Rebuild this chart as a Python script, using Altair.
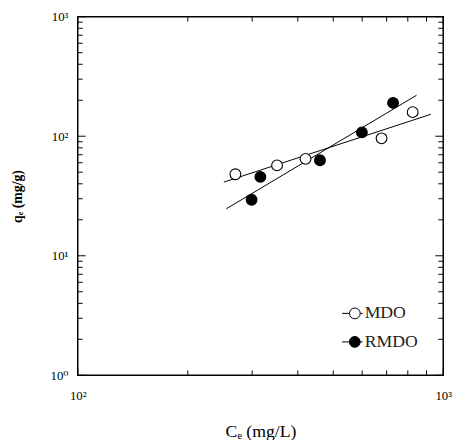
import altair as alt
import numpy as np
import pandas as pd

# ---- data ----
series_names = ["MDO", "RMDO"]
mdo_ce = [270, 351, 420, 678, 825]
mdo_qe = [48.1, 57.0, 64.6, 96.1, 159.0]
rmdo_ce = [299, 316, 460, 599, 729]
rmdo_qe = [29.4, 45.7, 63.0, 107.6, 190.0]
mdo_fit_range = [251, 925]
rmdo_fit_range = [255, 845]
x_decades = [100, 1000]
y_decades = [1, 10, 100, 1000]
x_minor = [m * 100 for m in range(2, 10)]
y_minor = [m * 10 ** e for e in range(0, 3) for m in range(2, 10)]

W, H = 372, 365
SERIF = "'Liberation Serif', 'DejaVu Serif', serif"

pts = pd.DataFrame({
    "x": mdo_ce + rmdo_ce,
    "y": mdo_qe + rmdo_qe,
    "series": [series_names[0]] * len(mdo_ce) + [series_names[1]] * len(rmdo_ce),
})

fit_rows = []
for name, xs, ys, rng in [(series_names[0], mdo_ce, mdo_qe, mdo_fit_range),
                          (series_names[1], rmdo_ce, rmdo_qe, rmdo_fit_range)]:
    k, b = np.polyfit(np.log10(xs), np.log10(ys), 1)
    for xv in rng:
        fit_rows.append({"x": xv, "y": 10 ** (b + k * np.log10(xv)), "series": name})
fit = pd.DataFrame(fit_rows)

xscale = alt.Scale(type="log", domain=[100, 1000], nice=False)
yscale = alt.Scale(type="log", domain=[1, 1000], nice=False)

sup = "['⁰','¹','²','³','⁴'][round(log(datum.value)/LN10)]"
xaxis = alt.Axis(values=x_decades, labelExpr="'10' + " + sup, ticks=False, domain=False,
                 grid=False, labelFlush=False, labelPadding=15, labelFont=SERIF,
                 labelFontSize=13, labelColor="black", title="Cₑ (mg/L)",
                 titleFont=SERIF, titleFontSize=18, titleFontWeight="normal",
                 titleColor="black", titlePadding=20)
yaxis = alt.Axis(values=y_decades, labelExpr="'10' + " + sup, ticks=False, domain=False,
                 grid=False, labelFlush=False, labelPadding=10, labelFont=SERIF,
                 labelFontSize=13, labelColor="black", labelBaseline="middle",
                 title="qₑ (mg/g)", titleFont=SERIF, titleFontSize=14,
                 titleFontWeight="bold", titleColor="black", titlePadding=26)

X = lambda: alt.X("x:Q", scale=xscale, axis=xaxis)
Y = lambda: alt.Y("y:Q", scale=yscale, axis=yaxis)

lines = alt.Chart(fit).mark_line(color="black", strokeWidth=1).encode(
    x=X(), y=Y(), detail="series:N")

sym = "M-2.0,0L-0.85,0M0.85,0L1.25,0M0.85,0A0.85,0.85,0,1,1,-0.85,0A0.85,0.85,0,1,1,0.85,0Z"
points = alt.Chart(pts).mark_circle(size=120, stroke="black", strokeWidth=1.1, opacity=1).encode(
    x=X(), y=Y(),
    fill=alt.Fill("series:N", scale=alt.Scale(domain=series_names, range=["white", "black"]),
                  legend=alt.Legend(title=None, orient="none", legendX=273, legendY=293,
                                    symbolType=sym, symbolSize=167, symbolStrokeColor="black",
                                    symbolStrokeWidth=1, labelFont=SERIF, labelFontSize=18,
                                    labelColor="#222", rowPadding=11, labelOffset=1)),
)

def tick_layers(values, length):
    dfx = pd.DataFrame({"x": list(values[0])})
    dfy = pd.DataFrame({"y": list(values[1])})
    base_x = alt.Chart(dfx).mark_rule(color="black", strokeWidth=1)
    base_y = alt.Chart(dfy).mark_rule(color="black", strokeWidth=1)
    return [
        base_x.encode(x=X(), y=alt.value(H), y2=alt.value(H - length)),
        base_x.encode(x=X(), y=alt.value(0), y2=alt.value(length)),
        base_y.encode(y=Y(), x=alt.value(0), x2=alt.value(length)),
        base_y.encode(y=Y(), x=alt.value(W), x2=alt.value(W - length)),
    ]

ticks = tick_layers((x_decades, y_decades), 8) + tick_layers((x_minor, y_minor), 5)

chart = alt.layer(lines, points, *ticks).properties(
    width=W, height=H,
    autosize=alt.AutoSizeParams(type="none"),
    padding={"left": 71, "top": 5, "right": 13, "bottom": 62},
    background="white",
).configure_view(stroke="black", strokeWidth=1.5)

chart.save("out.html", embed_options={"renderer": "svg", "actions": False})
